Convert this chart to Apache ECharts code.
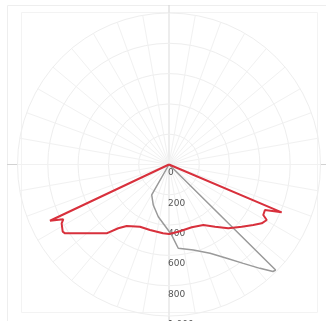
<!DOCTYPE html>
<html><head><meta charset="utf-8">
<script src="https://cdn.jsdelivr.net/npm/echarts@6/dist/echarts.min.js"></script>
<style>html,body{margin:0;padding:0;background:#fff}#c{width:326px;height:321px}</style>
</head><body><div id="c"></div>
<script>
// angles in degrees from nadir: negative = left (C180), positive = right (C0)
const redAngles = [-70, -64.7, -62.6, -61.3, -57.7, -56.5, -52.3, -45, -42.2, -38.5, -34.5, -25, -16.2, -5, 0, 7.9, 19.9, 29.6, 36.5, 42.9, 49.5, 54.3, 57.6, 60.4, 61.8, 64.6, 67, 72];
const redValues = [0, 869, 786, 808, 830, 823, 742, 642, 613, 538, 493, 453, 450, 456, 459, 448, 441, 459, 511, 575, 632, 685, 725, 742, 706, 701, 808, 0];
const grayAngles = [-35, -29.6, -21.2, -11.6, -2, 2.2, 6.3, 15.9, 24.8, 31.6, 36.9, 41.2, 44.2, 45.3, 50];
const grayValues = [0, 231, 287, 352, 421, 466, 556, 587, 646, 727, 816, 911, 985, 990, 0];
const radiusTicks = [0, 200, 400, 600, 800, 1000];

const toPolar = (angles, values) => angles.map((a, i) => [values[i], (a + 360) % 360]);

const cx = 169, cy = 164.5, R = 151.5;
const chart = echarts.init(document.getElementById('c'), null, {renderer: 'canvas'});
chart.setOption({
  animation: false,
  backgroundColor: '#fff',
  polar: {center: [cx, cy], radius: R},
  angleAxis: {
    type: 'value', min: 0, max: 360, interval: 10, startAngle: 270, clockwise: false,
    axisLine: {show: false}, axisTick: {show: false}, axisLabel: {show: false},
    splitLine: {show: true, lineStyle: {color: '#f1f1f1', width: 1}}
  },
  radiusAxis: {
    type: 'value', min: radiusTicks[0], max: radiusTicks[radiusTicks.length - 1], interval: 200,
    axisLine: {show: false}, axisTick: {show: false},
    axisLabel: {show: true, color: '#555', fontSize: 9, fontFamily: 'DejaVu Sans', margin: -1, align: 'left', verticalAlign: 'top', padding: [4, 0, 0, 0]},
    splitLine: {show: true, lineStyle: {color: '#eeeeee', width: 1}}
  },
  graphic: [
    {type: 'rect', shape: {x: 7.5, y: 5.5, width: 330, height: 330}, style: {fill: null, stroke: '#eeeeee', lineWidth: 1}, silent: true, z: -1},
    {type: 'rect', shape: {x: 21.5, y: 12.5, width: 296, height: 300}, style: {fill: null, stroke: '#f3f3f3', lineWidth: 1}, silent: true, z: -1},
    {type: 'line', shape: {x1: 7, y1: cy, x2: 326, y2: cy}, style: {stroke: '#d2d2d2', lineWidth: 1}, silent: true, z: -1},
    {type: 'line', shape: {x1: cx, y1: 5, x2: cx, y2: 321}, style: {stroke: '#d2d2d2', lineWidth: 1}, silent: true, z: -1}
  ],
  series: [
    {type: 'line', coordinateSystem: 'polar', data: toPolar(grayAngles, grayValues), symbol: 'none',
     lineStyle: {color: '#9a9a9a', width: 1.5}, z: 3},
    {type: 'line', coordinateSystem: 'polar', data: toPolar(redAngles, redValues), symbol: 'none',
     lineStyle: {color: '#d8303c', width: 2}, z: 4}
  ]
});
</script></body></html>
